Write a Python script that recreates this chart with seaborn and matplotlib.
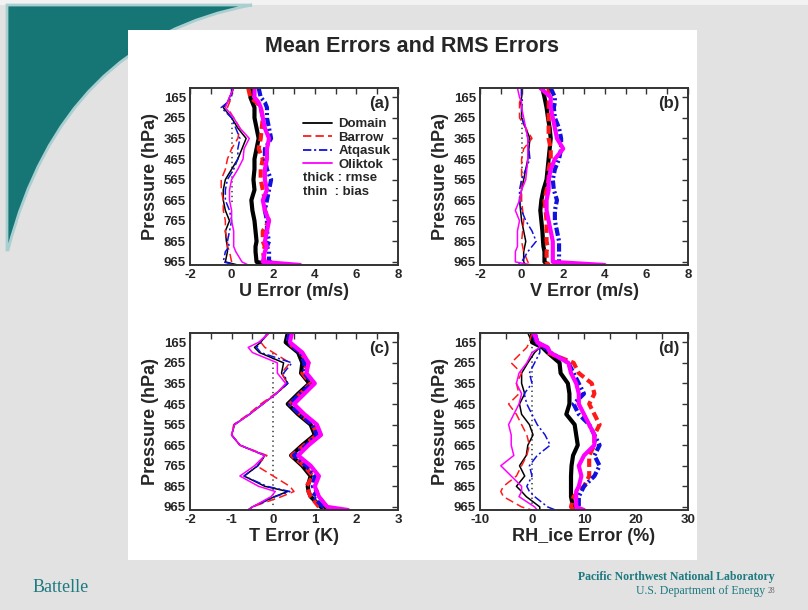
import numpy as np
import pandas as pd
import matplotlib
matplotlib.use("Agg")
import matplotlib.pyplot as plt
from matplotlib.patches import Rectangle, PathPatch
from matplotlib.path import Path
from matplotlib.lines import Line2D
from matplotlib.ticker import MultipleLocator
import seaborn as sns

# ---------------- data ----------------
pressure = [120, 165, 190, 215, 265, 315, 365, 415, 465, 515, 565, 615, 665, 715, 765, 815, 865, 890, 915, 965, 980]
stations = ["Domain", "Barrow", "Atqasuk", "Oliktok"]
ytick_labels = [165, 265, 365, 465, 565, 665, 765, 865, 965]

# (a) U error
u_rmse_domain  = [1.0, 0.9, 1.0, 1.1, 1.1, 1.2, 1.3, 1.2, 1.1, 1.1, 1.05, 1.1, 0.95, 1.0, 1.1, 1.15, 1.2, 1.15, 1.15, 1.2, 2.0]
u_rmse_barrow  = [0.8, 0.9, 1.2, 1.4, 1.5, 1.45, 1.4, 1.3, 1.5, 1.4, 1.4, 1.5, 1.6, 1.6, 1.8, 1.5, 1.5, 1.6, 1.5, 1.6, 2.2]
u_rmse_atqasuk = [1.3, 1.4, 1.6, 1.7, 1.7, 1.8, 1.9, 1.6, 1.6, 1.7, 1.9, 1.8, 1.7, 1.6, 1.7, 1.7, 1.8, 1.7, 1.8, 1.8, 2.5]
u_rmse_oliktok = [1.1, 1.1, 1.3, 1.4, 1.5, 1.6, 1.8, 1.7, 1.7, 1.6, 1.6, 1.7, 1.5, 1.6, 1.8, 1.7, 1.6, 1.7, 1.6, 1.5, 3.3]
u_bias_domain  = [0.1, -0.1, -0.2, -0.4, 0.0, 0.3, 0.7, 0.5, 0.3, 0.0, -0.3, -0.4, -0.4, -0.3, -0.1, -0.3, -0.25, -0.2, -0.2, -0.3, 0.3]
u_bias_barrow  = [0.0, 0.0, -0.1, -0.2, 0.1, 0.4, 0.3, 0.0, -0.2, -0.3, -0.5, -0.5, -0.4, -0.4, -0.3, -0.3, -0.2, -0.2, -0.1, 0.0, 0.0]
u_bias_atqasuk = [0.0, 0.0, -0.2, -0.5, 0.0, 0.2, 0.4, 0.3, 0.3, 0.1, -0.2, -0.3, -0.3, -0.1, 0.0, -0.1, -0.2, -0.1, -0.3, -0.4, 0.2]
u_bias_oliktok = [0.1, -0.1, -0.2, -0.3, 0.1, 0.4, 0.85, 0.6, 0.55, 0.3, 0.0, -0.1, -0.1, 0.0, 0.0, 0.1, 0.1, 0.1, 0.2, 0.5, 0.8]

# (b) V error
v_rmse_domain  = [1.0, 1.1, 1.15, 1.2, 1.27, 1.35, 1.4, 1.35, 1.3, 1.25, 1.2, 1.05, 0.95, 0.9, 0.95, 1.0, 1.03, 1.05, 1.1, 1.1, 1.3]
v_rmse_barrow  = [1.3, 1.3, 1.3, 1.3, 1.3, 1.3, 1.3, 1.4, 1.4, 1.3, 1.3, 1.2, 1.1, 1.15, 1.2, 1.2, 1.2, 1.25, 1.2, 1.2, 1.3]
v_rmse_atqasuk = [1.4, 1.6, 1.6, 1.55, 1.6, 1.8, 1.9, 1.9, 1.8, 1.6, 1.5, 1.55, 1.7, 1.6, 1.6, 1.7, 1.8, 1.8, 1.8, 1.8, 1.9]
v_rmse_oliktok = [0.9, 1.4, 1.4, 1.4, 1.5, 1.6, 1.7, 2.0, 1.6, 1.4, 1.3, 1.3, 1.2, 1.2, 1.3, 1.4, 1.5, 1.5, 1.5, 1.5, 4.0]
v_bias_domain  = [0.0, 0.0, -0.05, 0.0, 0.0, 0.2, 0.4, 0.35, 0.3, 0.2, 0.1, 0.0, -0.1, -0.05, 0.0, 0.1, 0.2, 0.15, 0.1, 0.1, 0.2]
v_bias_barrow  = [0.0, 0.0, -0.1, -0.1, -0.1, 0.2, 0.5, 0.1, 0.0, 0.0, 0.0, 0.0, 0.0, 0.05, 0.1, 0.05, 0.0, 0.05, 0.1, 0.3, 0.4]
v_bias_atqasuk = [0.0, 0.0, 0.05, 0.0, 0.0, 0.2, 0.3, 0.35, 0.4, 0.2, 0.0, -0.1, -0.1, 0.0, 0.2, 0.5, 0.7, 0.5, 0.3, 0.0, -0.3]
v_bias_oliktok = [-0.2, -0.1, 0.0, 0.0, 0.1, 0.2, 0.3, 0.3, 0.3, 0.25, 0.2, 0.0, -0.1, -0.3, -0.1, -0.2, -0.2, -0.2, -0.3, -0.3, 0.5]

# (c) T error
t_rmse_domain  = [0.35, 0.3, 0.45, 0.6, 0.7, 0.67, 0.87, 0.6, 0.35, 0.6, 0.9, 1.0, 0.7, 0.43, 0.7, 0.9, 0.83, 0.85, 0.9, 1.15, 1.3]
t_rmse_barrow  = [0.4, 0.35, 0.5, 0.65, 0.85, 0.7, 0.9, 0.65, 0.4, 0.65, 0.95, 1.05, 0.75, 0.45, 0.75, 0.95, 0.8, 0.85, 0.9, 1.1, 1.2]
t_rmse_atqasuk = [0.4, 0.35, 0.5, 0.65, 0.75, 0.75, 0.95, 0.65, 0.4, 0.65, 0.95, 1.05, 0.8, 0.5, 0.8, 1.0, 0.95, 1.05, 0.95, 1.2, 1.5]
t_rmse_oliktok = [0.45, 0.4, 0.55, 0.7, 0.85, 0.8, 1.0, 0.75, 0.5, 0.75, 1.05, 1.15, 0.85, 0.6, 0.9, 1.1, 1.0, 1.05, 1.1, 1.3, 1.8]
t_bias_domain  = [-0.13, -0.3, -0.45, -0.33, 0.25, 0.2, 0.35, 0.07, -0.25, -0.57, -0.93, -1.0, -0.8, -0.2, -0.37, -0.7, -0.2, 0.35, 0.03, -0.5, -0.6]
t_bias_barrow  = [-0.1, -0.3, -0.2, 0.0, 0.4, 0.2, 0.35, 0.05, -0.3, -0.6, -0.95, -1.0, -0.8, -0.15, -0.4, 0.0, 0.4, 0.5, 0.2, -0.5, -0.6]
t_bias_atqasuk = [-0.13, -0.3, -0.4, -0.3, 0.45, 0.25, 0.35, 0.07, -0.25, -0.57, -0.93, -1.0, -0.8, -0.2, -0.37, -0.7, -0.15, 0.4, 0.05, -0.5, -0.6]
t_bias_oliktok = [-0.1, -0.35, -0.6, -0.5, 0.1, 0.1, 0.3, 0.07, -0.25, -0.57, -0.93, -1.0, -0.8, -0.2, -0.45, -0.8, -0.35, 0.05, -0.05, -0.5, -0.6]

# (d) RH_ice error
rh_rmse_domain  = [0.0, 0.0, 2.0, 3.0, 5.3, 5.5, 6.9, 7.2, 7.2, 6.6, 8.2, 8.5, 8.8, 7.9, 7.6, 7.5, 7.5, 7.5, 7.5, 7.9, 8.0]
rh_rmse_barrow  = [0.5, 1.0, 2.5, 3.0, 8.0, 9.0, 11.5, 12.0, 11.0, 12.0, 13.0, 12.0, 12.0, 11.0, 11.0, 11.0, 10.0, 9.0, 8.0, 7.5, 8.0]
rh_rmse_atqasuk = [0.5, 1.0, 2.5, 3.5, 7.0, 8.0, 9.0, 10.0, 8.0, 9.0, 11.0, 12.0, 13.0, 12.0, 13.0, 12.0, 10.0, 9.5, 9.0, 9.0, 9.0]
rh_rmse_oliktok = [0.5, 1.0, 3.0, 3.5, 7.0, 7.5, 8.5, 9.0, 9.0, 10.0, 11.0, 12.0, 12.0, 10.0, 9.0, 9.5, 9.0, 8.5, 8.5, 8.5, 10.0]
rh_bias_domain  = [-0.8, 0.0, 1.5, 0.5, -0.8, -2.0, -2.0, -1.4, -2.4, -2.0, -0.5, 0.2, -0.8, -1.1, -2.4, -1.4, -3.0, -2.0, -1.1, 1.5, 1.5]
rh_bias_barrow  = [0.0, -0.5, -1.0, -2.0, -4.0, -2.0, -3.0, -2.5, -4.5, -3.0, -2.0, -1.0, -0.5, -1.0, -2.0, -3.0, -5.5, -6.0, -5.5, -2.0, 0.0]
rh_bias_atqasuk = [0.0, 0.5, 1.5, 1.5, 0.5, -0.5, 0.0, -1.5, -1.0, 0.0, 1.0, 2.5, 3.5, 1.0, -0.5, 0.0, -1.0, -0.5, 0.5, 3.0, 4.5]
rh_bias_oliktok = [0.0, 1.0, 1.5, 0.0, -1.0, -2.5, -3.0, -2.0, -2.5, -3.5, -4.5, -4.0, -4.0, -3.5, -6.0, -4.0, -2.0, -2.0, -2.5, 0.5, 1.0]

panel_tags = ["(a)", "(b)", "(c)", "(d)"]
xlabels = ["U Error (m/s)", "V Error (m/s)", "T Error (K)", "RH_ice Error (%)"]

# ---------------- style ----------------
sns.set_theme(style="white")
plt.rcParams["font.family"] = ["Liberation Sans", "DejaVu Sans"]
plt.rcParams["font.weight"] = "bold"
plt.rcParams["axes.labelweight"] = "bold"
plt.rcParams["axes.unicode_minus"] = False
plt.rcParams["lines.scale_dashes"] = False

palette = {"Domain": "black", "Barrow": "#ff1a1a", "Atqasuk": "#1010e0", "Oliktok": "#ff00ff"}
dash_map = {"Domain": "", "Barrow": (6, 3), "Atqasuk": (6, 2, 1.5, 2), "Oliktok": ""}

fig = plt.figure(figsize=(8.08, 6.10), dpi=100)
fig.patch.set_facecolor("#e2e2e2")

def fx(px):
    return px / 808.0

def fy(py):
    return 1 - py / 610.0

# light slide margin strip
fig.patches.append(Rectangle((0, fy(5)), 1, 5 / 610.0, transform=fig.transFigure,
                             facecolor="#f2f2f2", edgecolor="none", zorder=-4))
# teal swoosh (decoration)
sw = Path([(fx(7), fy(5)), (fx(252), fy(5)), (fx(62), fy(40)), (fx(8), fy(250)), (fx(7), fy(250)), (fx(7), fy(5))],
          [Path.MOVETO, Path.LINETO, Path.CURVE3, Path.CURVE3, Path.LINETO, Path.CLOSEPOLY])
fig.patches.append(PathPatch(sw, transform=fig.transFigure, facecolor="#167676", edgecolor="#a9cfd0",
                             lw=2.0, zorder=-3))
# white slide panel
fig.patches.append(Rectangle((fx(128), fy(560)), fx(569), 530 / 610.0, transform=fig.transFigure,
                             facecolor="white", edgecolor="none", zorder=-2))

def long_df(rmse, bias):
    rows = []
    for st, vals in zip(stations, rmse):
        for p, v in zip(pressure, vals):
            rows.append((p, v, st, "rmse"))
    for st, vals in zip(stations, bias):
        for p, v in zip(pressure, vals):
            rows.append((p, v, st, "bias"))
    return pd.DataFrame(rows, columns=["pressure", "value", "station", "metric"])

panels = [
    (long_df([u_rmse_domain, u_rmse_barrow, u_rmse_atqasuk, u_rmse_oliktok],
             [u_bias_domain, u_bias_barrow, u_bias_atqasuk, u_bias_oliktok]), (-2, 8), 2, 1, (265, 680)),
    (long_df([v_rmse_domain, v_rmse_barrow, v_rmse_atqasuk, v_rmse_oliktok],
             [v_bias_domain, v_bias_barrow, v_bias_atqasuk, v_bias_oliktok]), (-2, 8), 2, 1, (265, 580)),
    (long_df([t_rmse_domain, t_rmse_barrow, t_rmse_atqasuk, t_rmse_oliktok],
             [t_bias_domain, t_bias_barrow, t_bias_atqasuk, t_bias_oliktok]), (-2, 3), 1, 0.5, (215, 965)),
    (long_df([rh_rmse_domain, rh_rmse_barrow, rh_rmse_atqasuk, rh_rmse_oliktok],
             [rh_bias_domain, rh_bias_barrow, rh_bias_atqasuk, rh_bias_oliktok]), (-10, 30), 10, 5, (165, 965)),
]

axes_px = [(190, 88), (480, 88), (190, 333), (480, 333)]
w_px, h_px = 208, 177

for i, (df, xlim, major, minor, zspan) in enumerate(panels):
    lx, ty = axes_px[i]
    ax = fig.add_axes([fx(lx), fy(ty + h_px), w_px / 808.0, h_px / 610.0])
    ax.set_facecolor("white")
    sns.lineplot(data=df, x="value", y="pressure", hue="station", style="station", size="metric",
                 hue_order=stations, style_order=stations, size_order=["rmse", "bias"],
                 sizes={"rmse": 3.0, "bias": 1.1}, palette=palette, dashes=dash_map,
                 orient="y", sort=True, estimator=None, legend=False, ax=ax)
    ax.vlines(0, zspan[0], zspan[1], colors="#444444", linestyles=(0, (1, 2.5)), lw=1.2, zorder=1)
    ax.set_xlim(*xlim)
    ax.set_ylim(980, 120)
    ax.set_yticks(ytick_labels)
    ax.set_yticklabels([str(v) for v in ytick_labels])
    ax.xaxis.set_major_locator(MultipleLocator(major))
    ax.xaxis.set_minor_locator(MultipleLocator(minor))
    ax.tick_params(axis="both", which="both", direction="in", top=True, right=True,
                   labelsize=9.5, width=1.0, color="#333333")
    ax.tick_params(axis="both", which="major", length=4, pad=3)
    ax.tick_params(axis="x", which="minor", length=4)
    for lab in ax.get_xticklabels() + ax.get_yticklabels():
        lab.set_fontweight("bold")
    for s in ax.spines.values():
        s.set_linewidth(1.4)
        s.set_color("#333333")
    ax.set_xlabel(xlabels[i], fontsize=13, fontweight="bold", labelpad=1)
    ax.set_ylabel("Pressure (hPa)", fontsize=13, fontweight="bold", labelpad=3)
    ax.text(0.96, 0.955, panel_tags[i], transform=ax.transAxes, ha="right", va="top",
            fontsize=12, fontweight="bold")
    if i == 0:
        handles = [Line2D([], [], color=palette[s], lw=1.3,
                          linestyle="-" if dash_map[s] == "" else (0, dash_map[s])) for s in stations]
        ax.legend(handles, stations, loc="upper left", bbox_to_anchor=(0.543, 0.83), frameon=False,
                  handlelength=2.2, handletextpad=0.5, labelspacing=0.1, borderpad=0,
                  borderaxespad=0, prop={"weight": "bold", "size": 9.5})
        ax.text(0.543, 0.49, "thick : rmse", transform=ax.transAxes, fontsize=9.5,
                fontweight="bold", va="center")
        ax.text(0.543, 0.41, "thin  : bias", transform=ax.transAxes, fontsize=9.5,
                fontweight="bold", va="center")

fig.text(fx(412), fy(47), "Mean Errors and RMS Errors", ha="center", va="center",
         fontsize=15.5, fontweight="bold")

teal = "#1d7a80"
fig.text(fx(33), fy(587), "Battelle", ha="left", va="center", fontsize=13,
         family=["Liberation Serif", "DejaVu Serif"], fontweight="normal", color=teal)
fig.text(fx(775), fy(577), "Pacific Northwest National Laboratory", ha="right", va="center",
         fontsize=8.5, family=["Liberation Serif", "DejaVu Serif"], fontweight="bold", color=teal)
fig.text(fx(765), fy(591), "U.S. Department of Energy", ha="right", va="center",
         fontsize=8.5, family=["Liberation Serif", "DejaVu Serif"], fontweight="normal", color=teal)
fig.text(fx(768), fy(591), "28", ha="left", va="center", fontsize=5.5,
         family=["Liberation Serif", "DejaVu Serif"], fontweight="normal", color="#666666")

fig.savefig("out.png", dpi=100, facecolor=fig.get_facecolor())
